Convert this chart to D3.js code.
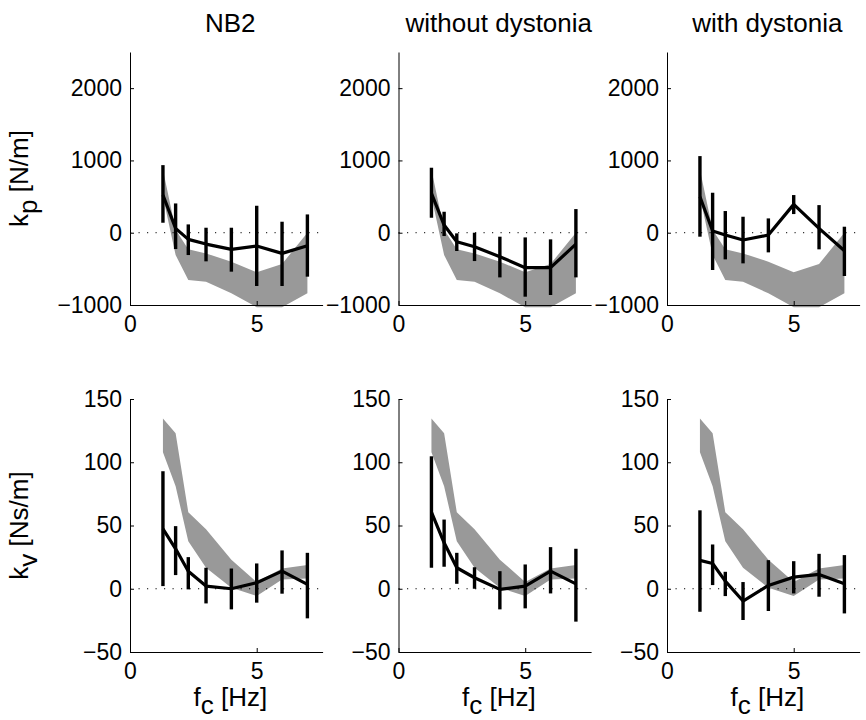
<!DOCTYPE html>
<html>
<head>
<meta charset="utf-8">
<script src="https://cdn.jsdelivr.net/npm/d3@7"></script>
<style>
  html, body { margin: 0; padding: 0; background: #fff; }
  svg { display: block; font-family: "Liberation Sans", Arial, Helvetica, sans-serif; }
</style>
</head>
<body>
<svg id="chart" width="866" height="720"></svg>
<script>
// ---------------- data ----------------
const groups = ["NB2", "without dystonia", "with dystonia"];
const freqs = [1.3, 1.8, 2.3, 3, 4, 5, 6, 7];
const xTicks = [0, 5];
const kpTicks = [-1000, 0, 1000, 2000];
const kvTicks = [-50, 0, 50, 100, 150];

// reference band (grey)
const kpBandUpper = [870, 40, -230, -286, -400, -548, -433, 0];
const kpBandLower = [500, -310, -655, -677, -839, -1030, -1030, -839];
const kvBandUpper = [134.5, 123, 60.5, 47, 23, 5.3, 16, 18.7];
const kvBandLower = [108, 81, 37.6, 16.6, 0.8, -5.8, 7.4, 8.2];

// k_p per group: mean, lower, upper
const kpNB2Mean = [521, 60, -92, -157, -230, -184, -286, -180];
const kpNB2Lo   = [138, -226, -309, -396, -539, -737, -737, -608];
const kpNB2Hi   = [935, 405, 115, 69, 69, 373, 152, 253];
const kpWithoutMean = [544, 106, -124, -194, -332, -484, -484, -157];
const kpWithoutLo   = [207, -46, -253, -392, -618, -885, -862, -618];
const kpWithoutHi   = [899, 290, -9, 0, -55, -65, -92, 327];
const kpWithMean = [498, 23, -32, -101, -32, 392, 60, -249];
const kpWithLo   = [-55, -516, -369, -424, -272, 258, -230, -599];
const kpWithHi   = [1060, 553, 300, 221, 198, 521, 382, 83];

// k_v per group
const kvNB2Mean = [47.4, 31.6, 13.9, 2.1, 0, 4.7, 13.9, 3.4];
const kvNB2Lo   = [2.1, 10.8, -0.5, -11.6, -16.3, -11, -3.9, -23.4];
const kvNB2Hi   = [92.9, 49.5, 25, 16.6, 16, 20, 30.3, 28.4];
const kvWithoutMean = [60.5, 36.3, 16.6, 8.7, -0.5, 2.1, 13.9, 3.9];
const kvWithoutLo   = [16.6, 17.4, 3.9, 0, -16.3, -15.5, -3.7, -26];
const kvWithoutHi   = [104.7, 54.7, 28.4, 17, 13.9, 19.2, 32.9, 31.6];
const kvWithMean = [22.4, 20, 6, -9.7, 2.6, 9.2, 11.3, 3.9];
const kvWithLo   = [-18.2, 2.9, -5.8, -24.7, -17.6, -3.7, -6.3, -19.5];
const kvWithHi   = [62, 35, 13.4, 5.3, 22.6, 21.8, 27.6, 26.6];

// ---------------- layout ----------------
const svg = d3.select("#chart");
const colLeft = [130, 398.5, 667];
const plotW = 192.6;
const rows = [
  { top: 52, bottom: 305, domain: [-1000, 2500], ticks: kpTicks,
    bandU: kpBandUpper, bandL: kpBandLower,
    series: [[kpNB2Mean, kpNB2Lo, kpNB2Hi], [kpWithoutMean, kpWithoutLo, kpWithoutHi], [kpWithMean, kpWithLo, kpWithHi]],
    label: ["k", "p", " [N/m]"] },
  { top: 399, bottom: 652, domain: [-50, 150], ticks: kvTicks,
    bandU: kvBandUpper, bandL: kvBandLower,
    series: [[kvNB2Mean, kvNB2Lo, kvNB2Hi], [kvWithoutMean, kvWithoutLo, kvWithoutHi], [kvWithMean, kvWithLo, kvWithHi]],
    label: ["k", "v", " [Ns/m]"] }
];

const tickFont = 23, labelFont = 26;

rows.forEach((row, ri) => {
  groups.forEach((g, ci) => {
    const x = d3.scaleLinear().domain([0, 7.6]).range([colLeft[ci], colLeft[ci] + plotW]);
    const y = d3.scaleLinear().domain(row.domain).range([row.bottom, row.top]);
    const gp = svg.append("g");

    // grey band
    const area = d3.area()
      .x((d, i) => x(freqs[i]))
      .y0((d, i) => y(row.bandL[i]))
      .y1((d, i) => y(row.bandU[i]));
    gp.append("path").datum(freqs).attr("d", area).attr("fill", "#999999").attr("stroke", "none");

    // zero line dotted
    gp.append("line")
      .attr("x1", x(0)).attr("x2", x(7.6))
      .attr("y1", y(0)).attr("y2", y(0))
      .attr("stroke", "#000").attr("stroke-width", 1)
      .attr("stroke-dasharray", "1.2,7.3");

    const [mean, lo, hi] = row.series[ci];
    // error bars
    gp.selectAll("line.err").data(freqs).enter().append("line")
      .attr("class", "err")
      .attr("x1", d => x(d)).attr("x2", d => x(d))
      .attr("y1", (d, i) => y(lo[i])).attr("y2", (d, i) => y(hi[i]))
      .attr("stroke", "#000").attr("stroke-width", 3.4);
    // mean line
    gp.append("path").datum(mean)
      .attr("d", d3.line().x((d, i) => x(freqs[i])).y(d => y(d)))
      .attr("fill", "none").attr("stroke", "#000").attr("stroke-width", 3.2)
      .attr("stroke-linejoin", "round");

    // axes
    const ax = gp.append("g").attr("transform", `translate(0,${row.bottom})`)
      .call(d3.axisBottom(x).tickValues(xTicks).tickFormat(d3.format("d"))
        .tickSizeInner(-4).tickSizeOuter(0).tickPadding(11));
    const ay = gp.append("g").attr("transform", `translate(${colLeft[ci]},0)`)
      .call(d3.axisLeft(y).tickValues(row.ticks).tickFormat(d => d < 0 ? "\u2212" + Math.abs(d) : d)
        .tickSizeInner(-4).tickSizeOuter(0).tickPadding(8));
    [ax, ay].forEach(a => {
      a.select(".domain").attr("stroke", "#000").attr("stroke-width", 1);
      a.selectAll(".tick line").attr("stroke", "#000");
      a.selectAll(".tick text").attr("font-size", tickFont).attr("fill", "#000")
        .attr("font-family", "Liberation Sans, Arial, sans-serif");
    });

    const cx = colLeft[ci] + plotW / 2;
    if (ri === 0) {
      svg.append("text").attr("x", cx + 4).attr("y", 32)
        .attr("text-anchor", "middle").attr("font-size", labelFont).text(g);
    } else {
      const t = svg.append("text").attr("x", cx + 4).attr("y", 706)
        .attr("text-anchor", "middle").attr("font-size", labelFont);
      t.append("tspan").text("f");
      t.append("tspan").attr("dy", 8).text("c");
      t.append("tspan").attr("dy", -8).text(" [Hz]");
    }
    if (ci === 0) {
      const cy = (row.top + row.bottom) / 2;
      const t = svg.append("text")
        .attr("transform", `translate(28,${cy}) rotate(-90)`)
        .attr("text-anchor", "middle").attr("font-size", labelFont);
      t.append("tspan").text(row.label[0]);
      t.append("tspan").attr("dy", 9).text(row.label[1]);
      t.append("tspan").attr("dy", -9).text(row.label[2]);
    }
  });
});
</script>
</body>
</html>
